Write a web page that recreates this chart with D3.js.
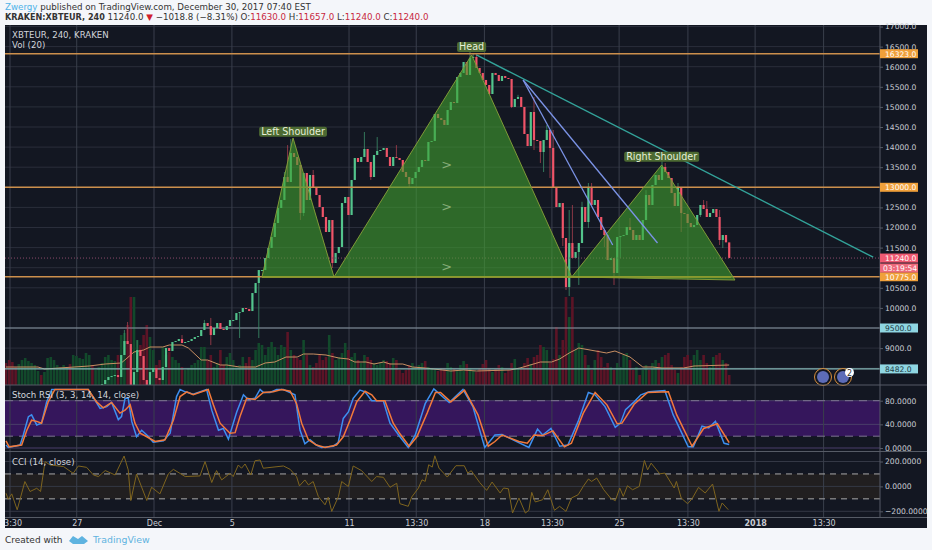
<!DOCTYPE html>
<html>
<head>
<meta charset="utf-8">
<script src="https://cdn.jsdelivr.net/npm/d3@7"></script>
<style>
  html, body { margin: 0; padding: 0; background: #f4f6fa; overflow: hidden; }
  text { font-family: "DejaVu Sans", sans-serif; }
</style>
</head>
<body>
<div id="chart"></div>
<script>
// 4h candles: closes by bar, open is the previous close
const firstOpen = 7150;
const closes = [
  7120,7090,7060,7040,7060,7090,7120,7150,7180,7210,
  7240,7200,7220,7260,7310,7350,7400,7440,7470,7510,
  7480,7520,7570,7620,7660,7710,7760,7730,7780,7840,
  8106,8206,8280,8305,8330,8280,8828,9176,9101,8081,
  8405,8952,8803,8206,8006,8405,8504,8255,8206,8529,
  9002,8927,9151,9176,9226,9126,9151,9176,9226,9275,
  9300,9450,9624,9549,9325,9499,9624,9475,9450,9549,
  9698,9698,9872,9897,9997,9972,9922,10370,10619,10942,
  10942,11241,11490,11764,12112,12485,12684,13256,13132,13853,
  13754,13555,12361,13356,12684,13306,12983,12808,12510,12261,
  11888,12186,11117,11365,11515,12609,12759,12311,13182,13729,
  13630,13754,13953,13630,13256,13804,13903,13928,13978,13754,
  13530,13754,13729,13679,13381,13256,13082,13231,13381,13505,
  13679,13654,14127,14152,14824,14724,14674,14550,14923,15122,
  15097,15744,15844,16117,15794,16217,16242,15968,15844,15670,
  15545,15321,15844,15794,15645,15769,15719,15694,14998,15197,
  15247,14998,14326,14027,14873,14177,14152,13878,14177,14426,
  13978,13007,12510,12609,11739,10520,11614,11241,11390,11614,
  12510,12137,13007,12560,12684,12261,11938,11813,11191,11241,
  10868,11764,11788,11813,12012,11938,11689,11813,11689,12186,
  12808,12560,13057,13306,13182,13505,13381,13231,12858,12535,
  13007,12361,12336,12112,12012,12062,12311,12560,12460,12261,
  12361,12460,12261,11689,11813,11630,11240
];
// [bar, price] for the wicks long enough to see
const highWicks = [[37,9450],[38,9650],[41,9200],[55,9325],[62,9700],[64,9750],[87,13380],[88,14050],[89,14200],
  [96,13430],[112,14375],[116,14250],[122,14050],[145,16370],[146,16315],[147,16315],[160,15300],[165,15245],
  [169,14550],[171,14425],[176,12435],[177,12560],[180,12640],[182,13107],[183,13107],[195,12235],[200,12930],
  [205,13680],[206,13605],[210,13107],[218,12684],[219,12660],[223,12435]];
const lowWicks = [[64,9075],[73,9250],[79,9250],[92,12187],[93,12285],[102,10992],[114,13182],[126,13007],
  [158,14973],[165,13928],[167,13605],[168,13380],[170,13230],[174,11540],[175,10445],[176,10296],[179,10570],
  [182,11988],[187,11515],[190,10570],[192,11240],[211,11888],[217,12261],[223,11565],[224,11490]];
const volumes = [
  22,25,23,18,21,25,27,24,22,20,
  14,10,13,27,28,25,20,18,20,18,
  21,30,29,27,26,32,30,20,15,18,
  22,28,30,25,24,30,50,52,60,88,
  88,45,40,50,60,48,35,20,25,38,
  30,33,28,25,22,18,15,17,20,22,
  25,38,38,25,30,18,22,35,20,28,
  32,25,18,20,28,22,28,25,35,42,
  40,30,38,43,38,30,40,38,53,35,
  30,27,25,45,30,20,18,22,30,25,
  28,50,32,25,28,32,42,35,28,32,
  25,22,30,28,25,22,20,22,25,24,
  22,27,25,15,12,15,20,22,18,20,
  22,24,18,17,15,14,17,17,22,18,
  16,15,20,24,21,17,14,13,17,21,
  25,17,13,16,20,18,12,15,22,26,
  17,16,22,27,21,28,30,40,38,35,
  22,26,58,30,45,88,68,88,35,42,
  40,30,20,15,25,35,28,18,22,18,
  15,22,18,30,32,25,15,18,10,15,
  20,15,22,25,22,28,30,32,20,15,
  12,18,28,30,25,30,35,25,30,22,
  18,28,30,32,25,22,10
];
const volMa = [[0,18],[10,18],[12,16],[26,19],[31,21],[36,22],[37.5,26],[40,33],[43,35],[45,38],[49,38],[51,40],
  [55,40],[57,37],[61,25],[63,25],[67,20],[69,20],[73,18],[78,18],[81,22],[84,23],[87.5,28],[91,28],[93,31],
  [96,31],[100,30],[104,27],[107,26],[109,23],[112.5,23],[115,21],[118,23],[120,21],[124,21],[127,18],[131,17],
  [139,14],[143,15],[147,14],[157.5,15],[160.6,17],[167,23],[170.5,23],[173,26],[176,32],[179,37],[182.5,35],
  [187.7,32],[190.3,34],[195,28],[199,18],[202,18],[205,17],[211.7,17],[215,19],[226,20]];

const stochK = [[0,5],[0.7,1],[4.4,5],[5.4,22],[7,53],[8,56],[9.6,39],[11.1,42],[12.7,78],[14.3,99],[25.7,99],
  [29.4,67],[31.5,70],[33,77],[35.1,48],[36.1,53],[37.2,84],[38.2,84],[39.3,45],[40.8,19],[42.4,30],[44,22],
  [46,10],[49.2,12],[51.3,25],[53.3,87],[54.4,99],[56,95],[58.5,91],[62.7,99],[64.3,64],[66.4,30],[67.9,33],
  [69.5,15],[72.1,61],[74.2,90],[75.7,82],[77.8,84],[79.4,99],[80.4,94],[82.5,94],[84.6,99],[86.7,99],[90.3,90],
  [91.9,30],[93.4,7],[95,14],[97,5],[98.6,1],[102.3,3],[103.8,9],[105.4,50],[107,61],[108.5,84],[110.6,98],
  [112.2,95],[114.3,80],[117.9,80],[120,42],[123.1,19],[125.7,1],[127.9,22],[131,75],[133.7,100],[138.5,77],
  [142.8,99],[145.9,70],[149.6,1],[152.8,22],[155,23],[159.1,12],[163.4,1],[166.1,32],[167.7,22],[170.3,33],
  [173,3],[175.6,5],[178.8,45],[182,94],[184.1,90],[187.2,70],[190.4,35],[192,42],[193.6,65],[196.3,78],
  [198.4,90],[201,95],[205.9,97],[208.5,56],[213.2,2],[214.8,2],[217.5,37],[219.6,34],[221.7,45],[224.4,8],[226,6]];
const stochD = [[0,12],[1,2],[4.9,5],[6.5,30],[8,47],[9.6,45],[11.1,42],[13.2,78],[15.3,99],[25.7,99],[28.3,78],
  [30.4,68],[33,77],[35.6,59],[37.2,64],[38.8,73],[40.3,42],[41.9,25],[44,19],[46.6,11],[49.7,14],[52.3,47],
  [54.4,87],[56.5,95],[58.5,90],[63.2,99],[64.8,73],[66.9,42],[70,25],[71.6,26],[73.1,53],[75.2,84],[77.8,82],
  [80.4,94],[83.5,95],[86.1,99],[88.8,96],[90.8,75],[92.4,42],[94.5,14],[97,5],[99.7,1],[103.3,5],[105.4,19],
  [107.5,47],[109.6,78],[112.2,96],[114.3,90],[115.8,80],[118.4,80],[121,42],[123.1,24],[126,3],[128.4,19],
  [131.6,59],[134.2,94],[135.8,94],[139,78],[143.3,98],[147.5,56],[150.7,3],[152.8,11],[155,22],[160.3,11],
  [162.9,8],[165,22],[167.7,21],[170.9,29],[174.5,2],[176.7,8],[180.4,59],[184.1,94],[187.8,73],[191,41],
  [192.5,42],[196.3,74],[200.5,94],[207,95],[209.6,56],[214.4,3],[218,33],[222.3,41],[226,9]];
const cci = [[0,-55],[0.7,-103],[1.8,-60],[3.5,-188],[5.9,39],[7.5,-41],[9.6,-15],[10.8,-41],[12.2,199],[13.8,172],
  [18,159],[21,105],[22.6,164],[25.2,153],[27.3,92],[28.9,79],[31,127],[34.1,92],[36.9,244],[38.2,132],[39,-114],
  [40.8,100],[44,-113],[45.5,-7],[48.1,-60],[50.7,100],[52.3,137],[56,79],[60.6,84],[62.2,199],[64.3,31],[65.8,127],
  [67.4,52],[70,105],[71,79],[72.6,172],[73.6,146],[74.7,180],[76.5,92],[77.8,206],[79.4,212],[80.4,146],[86.7,164],
  [88.8,137],[90.8,79],[91.7,4],[93.4,52],[94.5,12],[96,39],[97.6,-81],[99.7,-148],[100.7,-87],[101.8,-201],
  [103.9,-81],[104.9,39],[107,-1],[108.5,164],[111.1,127],[114.3,39],[115.8,79],[117.9,73],[120,-7],[122.1,25],
  [123.1,-139],[125.7,-160],[126.8,-85],[128.9,-13],[130,53],[131,40],[132.1,174],[133.2,155],[134,246],[135.3,147],
  [137.9,75],[140.6,166],[143.2,166],[144.3,107],[145.4,126],[148,32],[150.2,-32],[151.9,35],[154.4,-53],[155.5,-13],
  [157,-19],[158.3,-214],[160.3,-93],[162.3,-214],[163.4,-192],[164.3,-48],[165.4,-125],[167.7,-107],[169.3,-27],
  [171.4,-192],[173,-160],[175,-200],[176.7,-93],[178.8,-67],[180.4,0],[182,59],[183,40],[184.6,67],[186.8,-27],
  [188.9,-93],[190.4,-115],[191.8,-13],[192.9,-80],[194.2,5],[195.8,-27],[197.9,0],[199.5,208],[200.5,133],[201.6,187],
  [204.3,101],[205.9,107],[208.8,-13],[209.5,40],[211,-93],[213,-139],[214.4,-99],[216.4,-8],[218.5,-53],[220.8,19],
  [222.8,-200],[223.8,-133],[225.7,-187]];

const priceTicks = [17000,16500,16000,15500,15000,14500,14000,13500,12500,12000,11500,10500,10000,9000];
const stochTicks = [80,40,0];
const cciTicks = [200,0,-200];
const timeBars = [1.25,22.1,46.25,70.6,107.2,128.2,149.5,170.6,191.6,213.1,234.1,255.5];
const timeLabels = ['13:30','27','Dec','5','11','13:30','18','13:30','25','13:30','2018','13:30'];

const orangeLevels = [16323,13000,10775];
const blueLevels = [9500,8482];
const lastPrice = 11240;

// drawings, [bar, price]
const leftShoulder = [[80,10770],[89.7,14227],[102.5,10770]];
const headShape = [[102.5,10770],[145.5,16292],[176.8,10770]];
const rightShoulder = [[176.8,10770],[204.9,13555],[227.8,10694]];
const tealTrend = [[147,16292],[271,11260]];
const blueFan = [[[161.6,15670],[189.6,11564]],[[161.6,15670],[203.6,11614]]];
const arrowMarks = [[137.7,13555],[137.7,12510],[137.7,11017]];
const patternLabels = [['Left Shoulder',89.7,14380],['Head',145.5,16490],['Right Shoulder',204.9,13760]];

const width = 932, height = 550;
const paneLeft = 5, paneRight = 880, paneEdge = 927, paneTop = 25, paneBottom = 528;
const mainBottom = 385, stochBottom = 451.5, cciBottom = 517.5;

const svg = d3.select('#chart').append('svg')
  .attr('width', width)
  .attr('height', height)
  .style('display', 'block');

svg.append('rect').attr('x', paneLeft).attr('y', paneTop).attr('width', paneEdge - paneLeft).attr('height', paneBottom - paneTop).attr('fill', '#131722');

const x = d3.scaleLinear().domain([0, 226]).range([6, 729.2]);
const yPrice = d3.scaleLinear().domain([17000, 8000]).range([26.5, 388.3]);
const yVol = d3.scaleLinear().domain([0, 100]).range([mainBottom, mainBottom - 100]);
const yStoch = d3.scaleLinear().domain([80, 0]).range([400.7, 448]);
const yCci = d3.scaleLinear().domain([200, -200]).range([461.5, 511.3]);

const clip = (id, y0, y1) => svg.append('clipPath').attr('id', id).append('rect')
  .attr('x', paneLeft).attr('y', y0).attr('width', paneRight - paneLeft).attr('height', y1 - y0);
clip('clip-main', paneTop, mainBottom);
clip('clip-stoch', mainBottom, stochBottom);
clip('clip-cci', stochBottom, cciBottom);

const main = svg.append('g').attr('clip-path', 'url(#clip-main)');
const stochPane = svg.append('g').attr('clip-path', 'url(#clip-stoch)');
const cciPane = svg.append('g').attr('clip-path', 'url(#clip-cci)');

// Bands under the grid
stochPane.append('rect').attr('x', paneLeft).attr('width', paneRight - paneLeft)
  .attr('y', yStoch(80)).attr('height', yStoch(20) - yStoch(80)).attr('fill', '#35165c');
cciPane.append('rect').attr('x', paneLeft).attr('width', paneRight - paneLeft)
  .attr('y', yCci(100)).attr('height', yCci(-100) - yCci(100)).attr('fill', '#211f20');

// Grid
const gridColor = '#2a2e3b';
main.append('g').selectAll('line').data(d3.range(8000, 17500, 500)).enter().append('line')
  .attr('x1', paneLeft).attr('x2', paneRight).attr('y1', d => yPrice(d)).attr('y2', d => yPrice(d))
  .attr('stroke', gridColor);
stochPane.append('g').selectAll('line').data(stochTicks).enter().append('line')
  .attr('x1', paneLeft).attr('x2', paneRight).attr('y1', d => yStoch(d)).attr('y2', d => yStoch(d))
  .attr('stroke', '#4a3f6a');
cciPane.append('g').selectAll('line').data(cciTicks).enter().append('line')
  .attr('x1', paneLeft).attr('x2', paneRight).attr('y1', d => yCci(d)).attr('y2', d => yCci(d))
  .attr('stroke', '#343845');
[main, stochPane, cciPane].forEach(pane => {
  pane.append('g').selectAll('line').data(timeBars).enter().append('line')
    .attr('x1', d => x(d)).attr('x2', d => x(d)).attr('y1', paneTop).attr('y2', cciBottom)
    .attr('stroke', '#3a3f4c').attr('stroke-width', 1);
});

// Volume
const openOf = i => i === 0 ? firstOpen : closes[i - 1];
main.append('g').selectAll('rect').data(volumes).enter().append('rect')
  .attr('x', (d, i) => x(i) - 1.3)
  .attr('width', 2.6)
  .attr('y', d => yVol(d))
  .attr('height', d => yVol(0) - yVol(d))
  .attr('fill', (d, i) => closes[i] >= openOf(i) ? '#12492b' : '#5c1426');

const lineOf = (xs, ys) => d3.line().x(d => xs(d[0])).y(d => ys(d[1]));

main.append('path').datum(volMa)
  .attr('d', lineOf(x, yVol))
  .attr('fill', 'none').attr('stroke', '#c98f62').attr('stroke-width', 1);

// Horizontal levels
main.append('g').selectAll('line').data(blueLevels).enter().append('line')
  .attr('x1', paneLeft).attr('x2', paneRight).attr('y1', d => yPrice(d)).attr('y2', d => yPrice(d))
  .attr('stroke', (d, i) => i === 0 ? '#8a98a3' : '#86b9b9').attr('stroke-width', 1.2);

// Candles
const candles = main.append('g');
candles.selectAll('.wick-high').data(highWicks).enter().append('line')
  .attr('x1', d => x(d[0])).attr('x2', d => x(d[0]))
  .attr('y1', d => yPrice(d[1]))
  .attr('y2', d => yPrice(Math.max(closes[d[0]], openOf(d[0]))))
  .attr('stroke', d => closes[d[0]] >= openOf(d[0]) ? '#3c8f6a' : '#a8404f').attr('stroke-width', 0.8);
candles.selectAll('.wick-low').data(lowWicks).enter().append('line')
  .attr('x1', d => x(d[0])).attr('x2', d => x(d[0]))
  .attr('y1', d => yPrice(d[1]))
  .attr('y2', d => yPrice(Math.min(closes[d[0]], openOf(d[0]))))
  .attr('stroke', d => closes[d[0]] >= openOf(d[0]) ? '#3c8f6a' : '#a8404f').attr('stroke-width', 0.8);
candles.selectAll('rect').data(closes).enter().append('rect')
  .attr('x', (d, i) => x(i) - 1.1)
  .attr('width', 2.2)
  .attr('y', (d, i) => yPrice(Math.max(d, openOf(i))))
  .attr('height', (d, i) => Math.max(1, Math.abs(yPrice(d) - yPrice(openOf(i)))))
  .attr('fill', (d, i) => d >= openOf(i) ? '#53c48c' : '#ef5468');

// Orange levels and last price line
main.append('g').selectAll('line').data(orangeLevels).enter().append('line')
  .attr('x1', paneLeft).attr('x2', paneRight).attr('y1', d => yPrice(d)).attr('y2', d => yPrice(d))
  .attr('stroke', '#cc8f4c').attr('stroke-width', 1.5);
main.append('line')
  .attr('x1', paneLeft).attr('x2', paneRight).attr('y1', yPrice(lastPrice)).attr('y2', yPrice(lastPrice))
  .attr('stroke', '#8a4a6a').attr('stroke-dasharray', '1 2').attr('stroke-width', 1);

// Head and shoulders
main.append('g').selectAll('path').data([leftShoulder, headShape, rightShoulder]).enter().append('path')
  .attr('d', d => lineOf(x, yPrice)(d) + 'Z')
  .attr('fill', 'rgb(65,160,47)').attr('fill-opacity', 0.6)
  .attr('stroke', '#7f9a38').attr('stroke-width', 1);
main.append('line')
  .attr('x1', x(leftShoulder[0][0])).attr('x2', x(rightShoulder[2][0]) - 4)
  .attr('y1', yPrice(10770)).attr('y2', yPrice(10770))
  .attr('stroke', '#8f9c2c').attr('stroke-width', 1.6);

main.append('path').datum(tealTrend)
  .attr('d', lineOf(x, yPrice))
  .attr('fill', 'none').attr('stroke', '#33a39a').attr('stroke-width', 1.4);
main.append('g').selectAll('path').data(blueFan).enter().append('path')
  .attr('d', lineOf(x, yPrice))
  .attr('fill', 'none').attr('stroke', '#7b93e6').attr('stroke-width', 1.3);

main.append('g').selectAll('text').data(arrowMarks).enter().append('text')
  .attr('x', d => x(d[0])).attr('y', d => yPrice(d[1]) + 4)
  .attr('text-anchor', 'middle').attr('font-size', 13)
  .attr('fill', '#86ad78').text('>');

const labels = main.append('g').selectAll('g').data(patternLabels).enter().append('g')
  .attr('transform', d => `translate(${x(d[1])},${yPrice(d[2])})`);
const labelText = labels.append('text')
  .attr('text-anchor', 'middle').attr('y', 3.4).attr('font-size', 9.6)
  .attr('fill', '#e6efd8').text(d => d[0]);
labels.insert('rect', 'text')
  .attr('x', function() { return -this.parentNode.querySelector('text').getComputedTextLength() / 2 - 2; })
  .attr('y', -5)
  .attr('width', function() { return this.parentNode.querySelector('text').getComputedTextLength() + 4; })
  .attr('height', 10).attr('rx', 2)
  .attr('fill', '#4c6a32');

// Event icons
const icons = svg.append('g');
[823, 843].forEach(cx => {
  icons.append('circle').attr('cx', cx).attr('cy', 377).attr('r', 8.5)
    .attr('fill', '#131722').attr('stroke', '#d98f3c').attr('stroke-width', 1);
  icons.append('circle').attr('cx', cx).attr('cy', 377).attr('r', 6)
    .attr('fill', '#5d6cb8');
});
icons.append('circle').attr('cx', 849.5).attr('cy', 372.5).attr('r', 4.5).attr('fill', '#fff');
icons.append('text').attr('x', 849.5).attr('y', 375.5).attr('text-anchor', 'middle')
  .attr('font-size', 8).attr('fill', '#333').text('2');

// Stoch RSI
[80, 20].forEach(v => {
  stochPane.append('line').attr('x1', paneLeft).attr('x2', paneRight).attr('y1', yStoch(v)).attr('y2', yStoch(v))
    .attr('stroke', '#7d7590').attr('stroke-dasharray', '8 6');
});
stochPane.append('path').datum(stochK).attr('d', lineOf(x, yStoch))
  .attr('fill', 'none').attr('stroke', '#3d8fef').attr('stroke-width', 1.5);
stochPane.append('path').datum(stochD).attr('d', lineOf(x, yStoch))
  .attr('fill', 'none').attr('stroke', '#f2793a').attr('stroke-width', 1.5);

// CCI
[100, -100].forEach(v => {
  cciPane.append('line').attr('x1', paneLeft).attr('x2', paneRight).attr('y1', yCci(v)).attr('y2', yCci(v))
    .attr('stroke', '#a8a8a8').attr('stroke-dasharray', '6 5');
});
cciPane.append('path').datum(cci).attr('d', lineOf(x, yCci))
  .attr('fill', 'none').attr('stroke', '#7f651f').attr('stroke-width', 1);

// Pane borders
[mainBottom, stochBottom, cciBottom].forEach(y => {
  svg.append('line').attr('x1', paneLeft).attr('x2', paneEdge).attr('y1', y).attr('y2', y)
    .attr('stroke', '#565b66').attr('stroke-width', 1);
});
svg.append('line').attr('x1', paneRight).attr('x2', paneRight).attr('y1', paneTop).attr('y2', cciBottom)
  .attr('stroke', '#565b66').attr('stroke-width', 1);

// Axes
function styleAxis(g) {
  g.select('.domain').remove();
  g.selectAll('text').attr('fill', '#c9ccd3').attr('font-size', 7.6)
    .attr('font-family', '"DejaVu Sans", sans-serif');
}
svg.append('g').attr('transform', `translate(${paneRight},0)`)
  .call(d3.axisRight(yPrice).tickValues(priceTicks).tickSize(3).tickPadding(2).tickFormat(d3.format('.1f')))
  .call(styleAxis).selectAll('line').attr('stroke', '#565b66');
svg.append('g').attr('transform', `translate(${paneRight},0)`)
  .call(d3.axisRight(yStoch).tickValues(stochTicks).tickSize(3).tickPadding(2).tickFormat(d3.format('.4f')))
  .call(styleAxis).selectAll('line').attr('stroke', '#565b66');
svg.append('g').attr('transform', `translate(${paneRight},0)`)
  .call(d3.axisRight(yCci).tickValues(cciTicks).tickSize(3).tickPadding(2).tickFormat(d3.format('.4f')))
  .call(styleAxis).selectAll('line').attr('stroke', '#565b66');

const timeAxis = svg.append('g').attr('transform', `translate(0,${cciBottom})`)
  .call(d3.axisBottom(x).tickValues(timeBars).tickSize(0).tickPadding(3).tickFormat((d, i) => timeLabels[i]))
  .call(styleAxis);
timeAxis.selectAll('text').attr('font-size', 8);
timeAxis.selectAll('text').filter(d => d === 234.1).attr('font-weight', 'bold');
// first label is cut by the pane edge
svg.append('rect').attr('x', 0).attr('y', paneTop).attr('width', paneLeft).attr('height', paneBottom - paneTop).attr('fill', '#f4f6fa');

// Price flags
const flags = [
  [16323, '16323.0', '#f0a03a', '#fff'],
  [13000, '13000.0', '#f0a03a', '#fff'],
  [9500, '9500.0', '#8fd6e2', '#1c3a44'],
  [8482, '8482.0', '#8fd6e2', '#1c3a44'],
  [11240, '11240.0', '#ef5a72', '#fff'],
  [10775, '10775.0', '#f0a03a', '#fff']
];
const flagG = svg.append('g').selectAll('g').data(flags).enter().append('g')
  .attr('transform', d => `translate(${paneRight},${yPrice(d[0])})`);
flagG.append('rect').attr('x', 0).attr('y', -4.5).attr('width', 38).attr('height', 9).attr('fill', d => d[2]);
flagG.append('text').attr('x', 5).attr('y', 2.8).attr('font-size', 7.6).attr('fill', d => d[3]).text(d => d[1]);

const countdown = svg.append('g').attr('transform', `translate(${paneRight},268)`);
countdown.append('rect').attr('y', -4.5).attr('width', 38).attr('height', 9).attr('fill', '#ee6a7c');
countdown.append('text').attr('x', 3).attr('y', 2.8).attr('font-size', 7.6).attr('fill', '#fff').text('03:19:54');

// Pane titles
const title = (tx, ty, s, weight) => svg.append('text').attr('x', tx).attr('y', ty)
  .attr('font-size', 8.6).attr('fill', '#d2d5db').attr('font-weight', weight || 'normal').text(s);
title(12, 38, 'XBTEUR, 240, KRAKEN');
title(12, 48, 'Vol (20)');
title(12, 398, 'Stoch RSI (3, 3, 14, 14, close)');
title(12, 465, 'CCI (14, close)');

// Header
const h1 = svg.append('text').attr('x', 5).attr('y', 10).attr('font-size', 8.7).attr('fill', '#333');
h1.append('tspan').attr('fill', '#4fb3e8').text('Zwergy');
h1.append('tspan').text(' published on TradingView.com, December 30, 2017 07:40 EST');

const red = '#c8283f';
const h2 = svg.append('text').attr('x', 5).attr('y', 20).attr('font-size', 8.7).attr('fill', '#333');
h2.append('tspan').attr('font-weight', 'bold').attr('font-size', 8.1).text('KRAKEN:XBTEUR, 240');
h2.append('tspan').text('  11240.0 ');
h2.append('tspan').attr('fill', '#d0202c').text('▼');
h2.append('tspan').text(' −1018.8 (−8.31%) O:');
h2.append('tspan').attr('fill', red).text('11630.0');
h2.append('tspan').text(' H:');
h2.append('tspan').attr('fill', red).text('11657.0');
h2.append('tspan').text(' L:');
h2.append('tspan').attr('fill', red).text('11240.0');
h2.append('tspan').text(' C:');
h2.append('tspan').attr('fill', red).text('11240.0');

// Footer
svg.append('text').attr('x', 5).attr('y', 543).attr('font-size', 9).attr('fill', '#333').text('Created with');
const logo = svg.append('g').attr('transform', 'translate(69,536)');
logo.append('path').attr('d', 'M0,5 L4,0 L9,3 L13,0 L19,5 L15,8 L4,8 Z').attr('fill', '#5eb3e0');
svg.append('text').attr('x', 93).attr('y', 543).attr('font-size', 9.4).attr('fill', '#5eb3e0').text('TradingView');
</script>
</body>
</html>
